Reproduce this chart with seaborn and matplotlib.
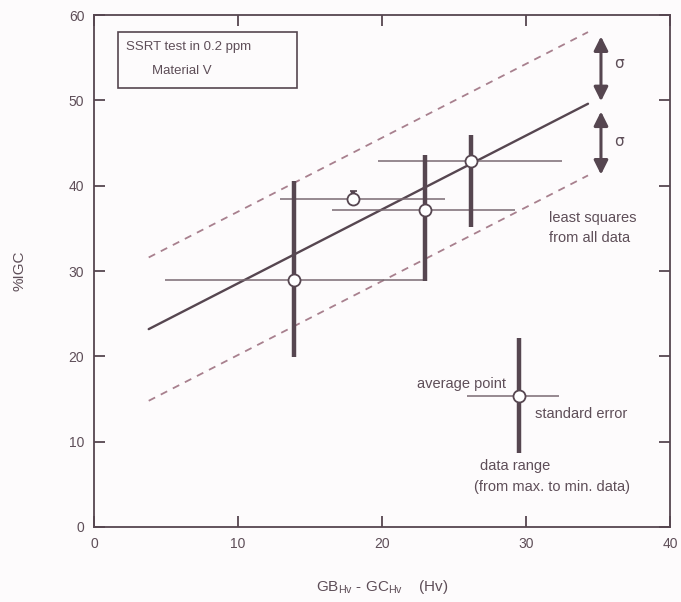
import matplotlib
matplotlib.use("Agg")
import matplotlib.pyplot as plt
import seaborn as sns
import numpy as np
import pandas as pd
from matplotlib.patches import Rectangle

# ---- data ----
x_mean = [13.9, 18.0, 23.0, 26.2]
y_mean = [29.0, 38.4, 37.2, 42.9]
x_err_lo = [4.9, 12.9, 16.5, 19.7]
x_err_hi = [23.0, 24.4, 29.2, 32.5]
y_range_lo = [19.9, 38.4, 28.8, 35.2]
y_range_hi = [40.5, 39.4, 43.6, 46.0]

# explanation (key) point
key_x = [29.5]
key_y = [15.3]
key_x_lo = [25.9]
key_x_hi = [32.3]
key_y_lo = [8.7]
key_y_hi = [22.2]

# least squares fit
fit_intercept = 19.9
fit_slope = 0.866
fit_sigma = 8.4
fit_x_range = [3.8, 34.3]

x_ticks = [0, 10, 20, 30, 40]
y_ticks = [0, 10, 20, 30, 40, 50, 60]

DARK = "#564650"
THIN = "#7a6a72"
DASH = "#a8808e"
TXT = "#5e4e58"

sns.set_theme(style="ticks")
plt.rcParams["font.family"] = ["Liberation Sans", "DejaVu Sans"]
plt.rcParams["mathtext.fontset"] = "custom"
plt.rcParams["mathtext.rm"] = "Liberation Sans"

fig = plt.figure(figsize=(6.81, 6.02), dpi=100)
fig.patch.set_facecolor("#fdfbfc")
ax = fig.add_axes([0.138, 0.1246, 0.846, 0.8504])
ax.set_facecolor("#fdfbfc")

# fit lines
fx = np.array(fit_x_range)
fit_df = pd.DataFrame({
    "x": np.concatenate([fx, fx, fx]),
    "y": np.concatenate([fit_intercept + fit_slope * fx,
                         fit_intercept + fit_slope * fx + fit_sigma,
                         fit_intercept + fit_slope * fx - fit_sigma]),
    "kind": ["fit"] * 2 + ["upper"] * 2 + ["lower"] * 2,
})
sns.lineplot(data=fit_df[fit_df.kind == "fit"], x="x", y="y", color=DARK,
             lw=1.7, ax=ax, legend=False)
for k in ["upper", "lower"]:
    sns.lineplot(data=fit_df[fit_df.kind == k], x="x", y="y", color=DASH,
                 lw=1.3, ax=ax, legend=False, dashes=False,
                 linestyle=(0, (4, 3.5)))

# data ranges (thick) and standard errors (thin)
all_x = x_mean + key_x
all_y = y_mean + key_y
ax.hlines(y_mean + key_y, x_err_lo + key_x_lo, x_err_hi + key_x_hi,
          color=THIN, lw=1.1, zorder=3)
ax.vlines(all_x, y_range_lo + key_y_lo, y_range_hi + key_y_hi,
          color=DARK, lw=3.2, zorder=4)
# small cap on point 2's short range
ax.hlines([y_range_hi[1]], [x_mean[1] - 0.25], [x_mean[1] + 0.25],
          color=DARK, lw=1.2, zorder=4)

pts = pd.DataFrame({"x": all_x, "y": all_y})
sns.scatterplot(data=pts, x="x", y="y", s=75, facecolor="white",
                edgecolor=DARK, linewidth=1.3, zorder=6, ax=ax, legend=False)

# sigma arrows
arrow_kw = dict(arrowstyle="<|-|>,head_length=0.7,head_width=0.35",
                color=DARK, lw=2.2, shrinkA=0, shrinkB=0)
ax.annotate("", xy=(35.2, 57.5), xytext=(35.2, 49.9), arrowprops=arrow_kw)
ax.annotate("", xy=(35.2, 48.7), xytext=(35.2, 41.3), arrowprops=arrow_kw)
ax.text(36.1, 54.3, "σ", color=TXT, fontsize=11, va="center", ha="left",
        family=["DejaVu Sans"])
ax.text(36.1, 45.2, "σ", color=TXT, fontsize=11, va="center", ha="left",
        family=["DejaVu Sans"])

# title box
ax.add_patch(Rectangle((1.66, 51.4), 12.44, 6.6, fill=False,
                       edgecolor=DARK, lw=1.2, zorder=5))
ax.text(2.2, 56.3, "SSRT test in 0.2 ppm", color=TXT, fontsize=9.5,
        va="center", ha="left")
ax.text(4.0, 53.5, "Material V", color=TXT, fontsize=9.5,
        va="center", ha="left")

# annotations
fs = 10.5
ax.text(31.6, 36.2, "least squares", color=TXT, fontsize=fs, va="center")
ax.text(31.6, 33.9, "from all data", color=TXT, fontsize=fs, va="center")
ax.text(28.6, 16.8, "average point", color=TXT, fontsize=fs, va="center",
        ha="right")
ax.text(30.6, 13.2, "standard error", color=TXT, fontsize=fs, va="center")
ax.text(26.8, 7.1, "data range", color=TXT, fontsize=fs, va="center")
ax.text(26.4, 4.7, "(from max. to min. data)", color=TXT, fontsize=fs,
        va="center")

ax.set_xlim(0, 40)
ax.set_ylim(0, 60)
ax.set_xticks(x_ticks)
ax.set_yticks(y_ticks)
ax.tick_params(direction="in", length=8, width=1.3, color=DARK,
               labelcolor=TXT, labelsize=10, top=True, right=True, pad=7)
for s in ax.spines.values():
    s.set_color(DARK)
    s.set_linewidth(1.3)

ax.set_xlabel(r"GB$_{\rm Hv}$ - GC$_{\rm Hv}$    (Hv)", color=TXT,
              fontsize=11, labelpad=20)
ax.set_ylabel("%IGC", color=TXT, fontsize=11, labelpad=30)

fig.savefig("out.png", dpi=100, facecolor=fig.get_facecolor())
